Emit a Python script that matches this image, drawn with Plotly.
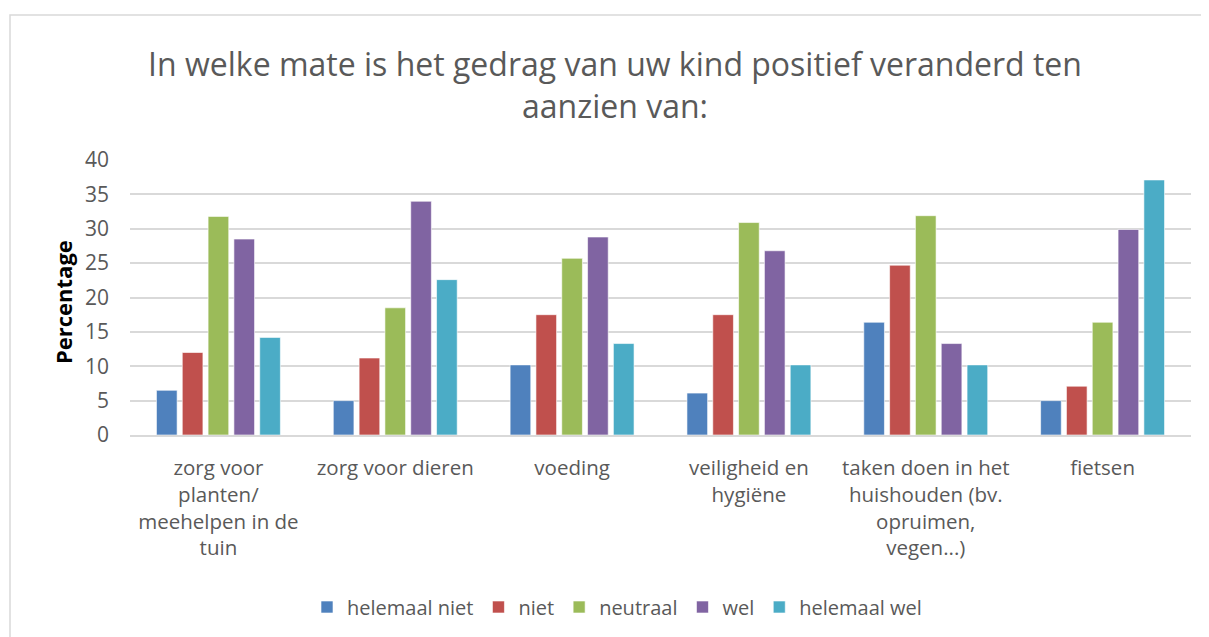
import plotly.graph_objects as go

categories = [
    "zorg voor<br>planten/<br>meehelpen in de<br>tuin",
    "zorg voor dieren",
    "voeding",
    "veiligheid en<br>hygiëne",
    "taken doen in het<br>huishouden (bv.<br>opruimen,<br>vegen...)",
    "fietsen",
]
series_names = ["helemaal niet", "niet", "neutraal", "wel", "helemaal wel"]
helemaal_niet = [6.5, 5.0, 10.2, 6.1, 16.4, 5.0]
niet = [12.0, 11.2, 17.5, 17.5, 24.7, 7.1]
neutraal = [31.8, 18.5, 25.7, 30.9, 31.9, 16.4]
wel = [28.5, 34.0, 28.8, 26.8, 13.3, 29.9]
helemaal_wel = [14.2, 22.6, 13.3, 10.2, 10.2, 37.1]
series_values = [helemaal_niet, niet, neutraal, wel, helemaal_wel]
colors = ["#4F81BD", "#C0504D", "#9BBB59", "#8064A2", "#4BACC6"]
y_ticks = [0, 5, 10, 15, 20, 25, 30, 35, 40]

OFF = 8  # page body margin
W, H = 1201, 629
L, T = 130 - OFF, 160 - OFF
R = W - (1191 - OFF)
B = H - (435 - OFF)
pw, ph = W - L - R, H - T - B

fig = go.Figure()
for name, vals, c in zip(series_names, series_values, colors):
    fig.add_trace(go.Bar(
        name=name, x=categories, y=vals,
        marker=dict(color=c, line=dict(color="rgba(255,255,255,0.6)", width=1)),
    ))

def px_x(p):
    return (p - OFF - L) / pw

def px_y(p):
    return 1 - (p - OFF - T) / ph

font_family = "Open Sans"
fig.update_layout(
    width=W, height=H,
    margin=dict(l=L, r=R, t=T, b=B, autoexpand=False),
    paper_bgcolor="white", plot_bgcolor="white",
    barmode="group", bargap=0.27, bargroupgap=0.2,
    font=dict(family=font_family, color="#595959"),
    title=dict(
        text="In welke mate is het gedrag van uw kind positief veranderd ten<br>aanzien van:",
        x=(615 - OFF) / W, xref="container", xanchor="center",
        y=1 - (76 - OFF) / H, yref="container", yanchor="middle",
        font=dict(size=32, color="#595959", family=font_family),
    ),
    xaxis=dict(
        showgrid=False, showline=True, linecolor="#D9D9D9", linewidth=1.5,
        ticks="", tickfont=dict(size=20.5, color="#595959"),
        ticklabelstandoff=14, automargin=False,
    ),
    yaxis=dict(
        range=[0, 40], tickvals=y_ticks, showgrid=True, gridcolor="#D9D9D9",
        gridwidth=1.5, zeroline=False, showline=False, ticks="",
        tickfont=dict(size=21, color="#595959"), ticklabelstandoff=20,
        automargin=False,
    ),
    legend=dict(
        orientation="h", x=px_x(617), xanchor="center", y=px_y(607), yanchor="middle",
        font=dict(size=20, color="#595959"), itemwidth=30, traceorder="normal",
    ),
    annotations=[dict(
        text="<b>Percentage</b>", xref="paper", yref="paper",
        x=px_x(63), y=px_y(302), xanchor="center", yanchor="middle",
        textangle=-90, showarrow=False, font=dict(size=22, color="black"),
    )],
    shapes=[dict(
        type="rect", xref="paper", yref="paper",
        x0=px_x(10), x1=px_x(1230), y0=px_y(660), y1=px_y(15),
        line=dict(color="#D9D9D9", width=1.5), fillcolor="rgba(0,0,0,0)", layer="below",
    )],
)
fig.write_html("out.html")
